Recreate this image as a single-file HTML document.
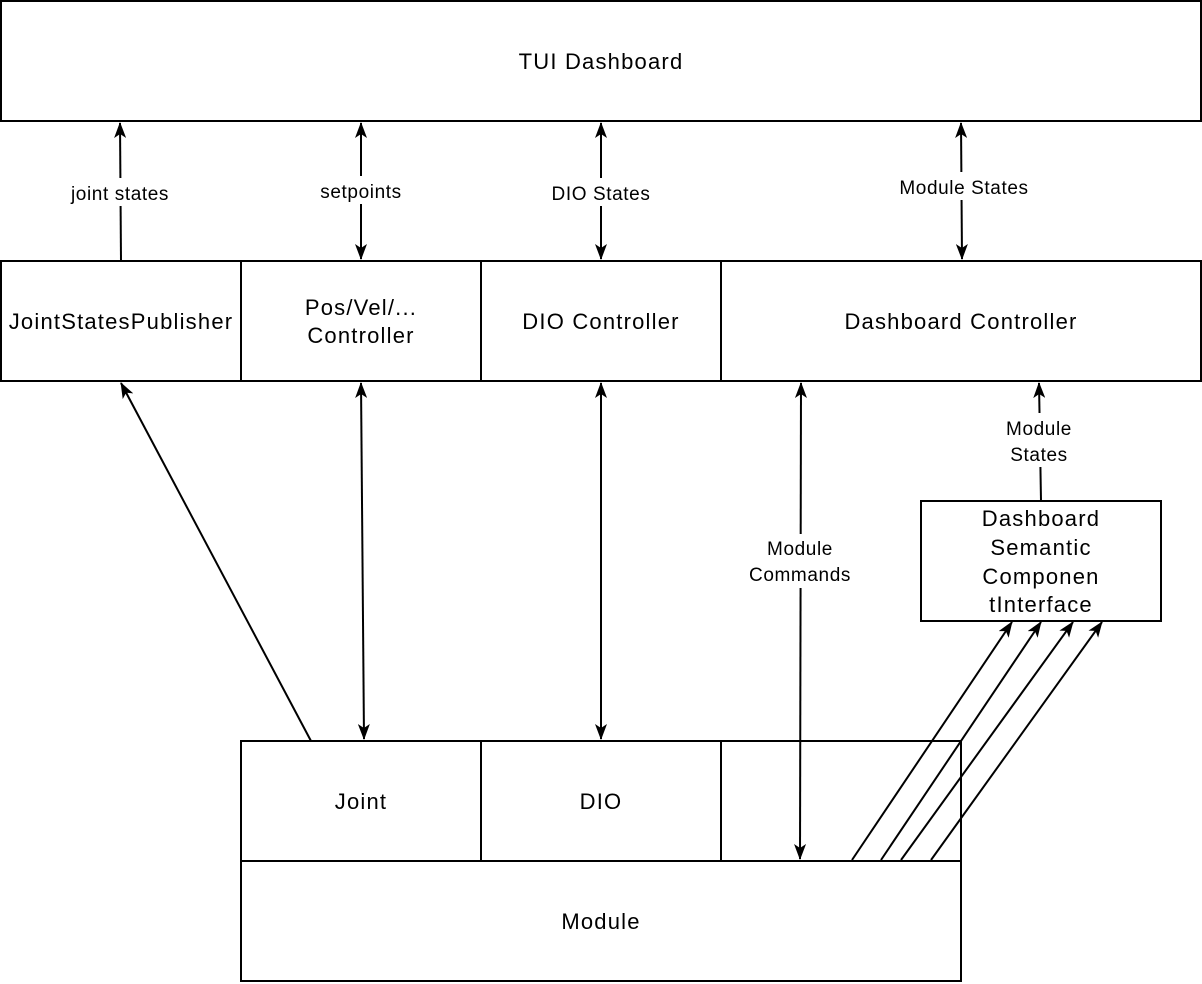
<!DOCTYPE html>
<html><head><meta charset="utf-8"><style>
html,body{margin:0;padding:0;background:#fff;}
svg{display:block;}
text{font-family:"Liberation Sans",sans-serif;fill:#000;}
.b{font-size:22px;letter-spacing:1.2px;}
.l{font-size:19px;letter-spacing:0.6px;}
</style></head><body>
<svg width="1202" height="984" viewBox="0 0 1202 984" xmlns="http://www.w3.org/2000/svg">
<defs>
<marker id="a" viewBox="0 0 16 12" refX="15" refY="6" markerWidth="16" markerHeight="12" markerUnits="userSpaceOnUse" orient="auto-start-reverse">
<path d="M0,0 L16,6 L0,12 L4,6 Z" fill="#000"/>
</marker>
</defs>
<g fill="#fff" stroke="#000" stroke-width="2">
<rect x="1" y="1" width="1200" height="120"/>
<rect x="1" y="261" width="240" height="120"/>
<rect x="241" y="261" width="240" height="120"/>
<rect x="481" y="261" width="240" height="120"/>
<rect x="721" y="261" width="480" height="120"/>
<rect x="241" y="741" width="240" height="120"/>
<rect x="481" y="741" width="240" height="120"/>
<rect x="721" y="741" width="240" height="120"/>
<rect x="241" y="861" width="720" height="120"/>
<rect x="921" y="501" width="240" height="120"/>
</g>
<g stroke="#000" stroke-width="2" fill="none">
<line x1="121" y1="261" x2="120" y2="123" marker-end="url(#a)"/>
<line x1="361" y1="123" x2="361" y2="259" marker-start="url(#a)" marker-end="url(#a)"/>
<line x1="601" y1="123" x2="601" y2="259" marker-start="url(#a)" marker-end="url(#a)"/>
<line x1="961" y1="123" x2="962" y2="259" marker-start="url(#a)" marker-end="url(#a)"/>
<line x1="311" y1="741" x2="121" y2="383" marker-end="url(#a)"/>
<line x1="361" y1="383" x2="364" y2="739" marker-start="url(#a)" marker-end="url(#a)"/>
<line x1="601" y1="383" x2="601" y2="739" marker-start="url(#a)" marker-end="url(#a)"/>
<line x1="801" y1="383" x2="800" y2="859" marker-start="url(#a)" marker-end="url(#a)"/>
<line x1="1041" y1="501" x2="1039" y2="383" marker-end="url(#a)"/>
<line x1="852" y1="860" x2="1012" y2="622" marker-end="url(#a)"/>
<line x1="881" y1="860" x2="1041" y2="622" marker-end="url(#a)"/>
<line x1="901" y1="860" x2="1073" y2="622" marker-end="url(#a)"/>
<line x1="931" y1="860" x2="1102" y2="622" marker-end="url(#a)"/>
</g>
<g fill="#fff">
<rect x="62" y="178" width="116" height="28"/>
<rect x="312" y="176" width="98" height="28"/>
<rect x="544" y="178" width="114" height="28"/>
<rect x="892" y="172" width="144" height="28"/>
<rect x="742" y="534" width="116" height="54"/>
<rect x="1000" y="413" width="80" height="54"/>
</g>
<g text-anchor="middle">
<text class="b" x="601" y="69">TUI Dashboard</text>
<text class="b" x="121" y="329">JointStatesPublisher</text>
<text class="b" x="361" y="315">Pos/Vel/...</text>
<text class="b" x="361" y="343">Controller</text>
<text class="b" x="601" y="329">DIO Controller</text>
<text class="b" x="961" y="329">Dashboard Controller</text>
<text class="b" x="361" y="809">Joint</text>
<text class="b" x="601" y="809">DIO</text>
<text class="b" x="601" y="929">Module</text>
<text class="b" x="1041" y="526">Dashboard</text>
<text class="b" x="1041" y="555">Semantic</text>
<text class="b" x="1041" y="584">Componen</text>
<text class="b" x="1041" y="612">tInterface</text>
<text class="l" x="120" y="200">joint states</text>
<text class="l" x="361" y="198">setpoints</text>
<text class="l" x="601" y="200">DIO States</text>
<text class="l" x="964" y="194">Module States</text>
<text class="l" x="800" y="555">Module</text>
<text class="l" x="800" y="581">Commands</text>
<text class="l" x="1039" y="435">Module</text>
<text class="l" x="1039" y="461">States</text>
</g>
</svg>
</body></html>
